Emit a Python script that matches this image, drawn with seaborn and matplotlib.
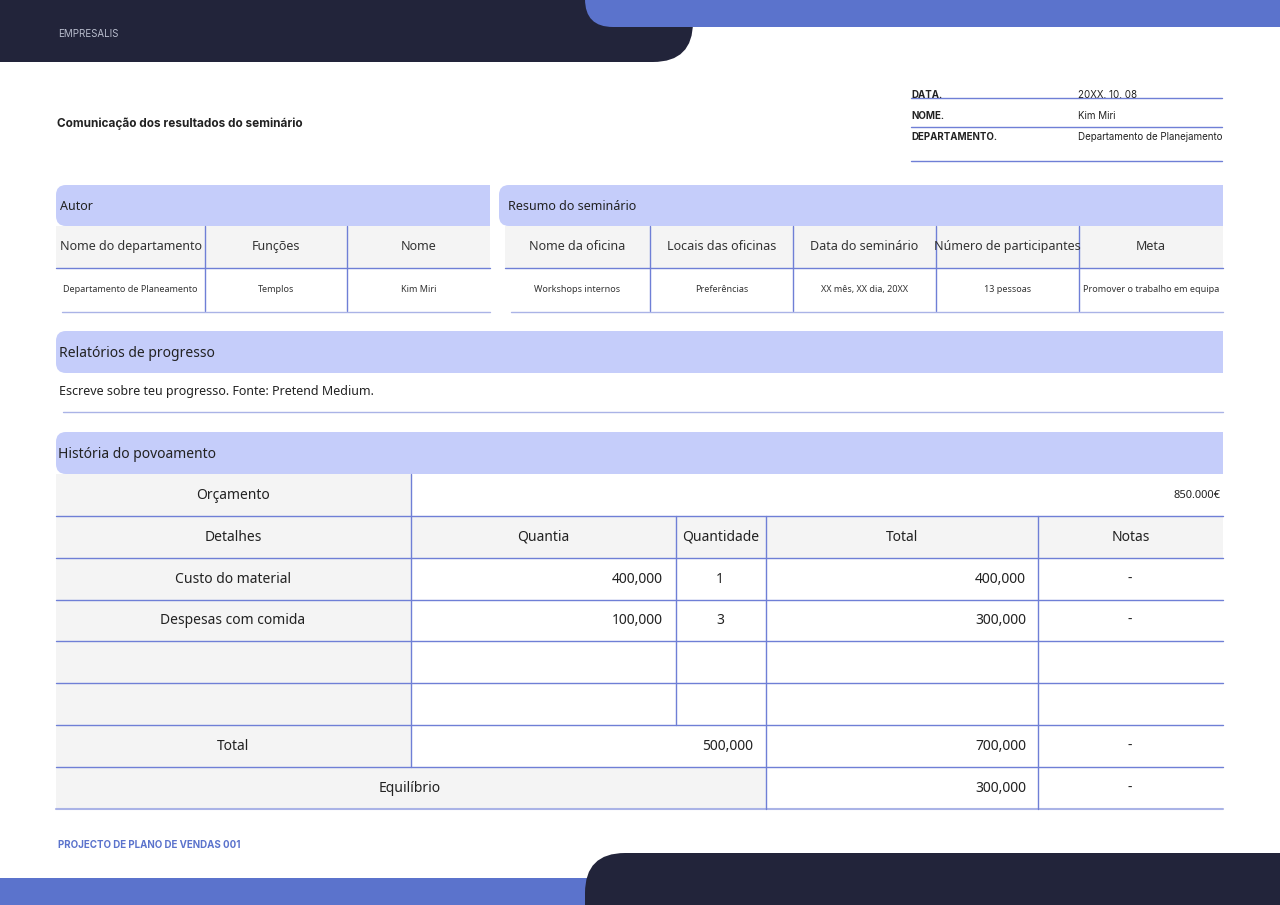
import matplotlib.pyplot as plt
import seaborn as sns
from matplotlib.patches import FancyBboxPatch, Rectangle

sns.set_theme(style="white")
plt.rcParams['font.family'] = ['Noto Sans', 'DejaVu Sans']

NAVY = "#22243a"
BLUE = "#5b73cc"
LIGHT = "#c5cdfa"
GRAY = "#f4f4f4"
LINE = "#6f7fd6"

info_labels = ["DATA.", "NOME.", "DEPARTAMENTO."]
info_values = ["20XX. 10. 08", "Kim Miri", "Departamento de Planejamento"]

autor_cols = ["Nome do departamento", "Funções", "Nome"]
autor_vals = ["Departamento de Planeamento", "Templos", "Kim Miri"]
resumo_cols = ["Nome da oficina", "Locais das oficinas", "Data do seminário",
               "Número de participantes", "Meta"]
resumo_vals = ["Workshops internos", "Preferências", "XX mês, XX dia, 20XX",
               "13 pessoas", "Promover o trabalho em equipa"]

budget = "850.000€"
det_cols = ["Detalhes", "Quantia", "Quantidade", "Total", "Notas"]
items = ["Custo do material", "Despesas com comida"]
amounts = ["400,000", "100,000"]
qty = ["1", "3"]
totals = ["400,000", "300,000"]
sum_amount, sum_total = "500,000", "700,000"
balance = "300,000"

fig = plt.figure(figsize=(12.8, 9.05), dpi=100)
ax = fig.add_axes([0, 0, 1, 1])
ax.set_xlim(0, 1280)
ax.set_ylim(905, 0)
ax.axis("off")

def rbox(x0, y0, x1, y1, color, r, z=1):
    ax.add_patch(FancyBboxPatch((x0 + r, y0 + r), x1 - x0 - 2 * r, y1 - y0 - 2 * r,
                                boxstyle=f"round,pad={r}", fc=color, ec="none", zorder=z))

def rect(x0, y0, x1, y1, color, z=1):
    ax.add_patch(Rectangle((x0, y0), x1 - x0, y1 - y0, fc=color, ec="none", zorder=z))

def hl(y, x0, x1, c=LINE, lw=1):
    ax.plot([x0, x1], [y, y], color=c, lw=lw, zorder=3)

def vl(x, y0, y1, c=LINE, lw=1):
    ax.plot([x, x], [y0, y1], color=c, lw=lw, zorder=3)

def t(x, y, s, size=9.5, ha="left", color="#222222", weight="normal", fam=None):
    kw = {"family": fam} if fam else {}
    ax.text(x, y, s, fontsize=size, ha=ha, va="center", color=color, weight=weight,
            zorder=4, **kw)

# top / bottom decorations
rbox(-60, -60, 693, 62, NAVY, 40, 1)
rbox(585, -60, 1340, 27, BLUE, 28, 2)
t(58, 34, "EMPRESALIS", 7, color="#b8bccc", fam="Inter")
rect(0, 878, 620, 905, BLUE, 1)
rbox(585, 853, 1340, 965, NAVY, 40, 2)
t(58, 845, "PROJECTO DE PLANO DE VENDAS 001", 7, color=BLUE, weight="bold", fam="Inter")

# title & info
t(57, 124, "Comunicação dos resultados do seminário", 8.5, weight="bold", fam="Inter")
for i, (lab, val) in enumerate(zip(info_labels, info_values)):
    y = 95 + 21 * i
    t(911, y, lab, 7, weight="bold", fam="Inter")
    t(1078, y, val, 7, fam="Inter")
hl(98, 911, 1222)
hl(127, 911, 1222)
hl(161, 911, 1222)

# section headers (rounded left, square right)
def header(x0, y0, x1, y1, label, tx, size):
    rbox(x0, y0, x1 - 20, y1, LIGHT, 10)
    rect(x1 - 30, y0, x1, y1, LIGHT)
    t(tx, (y0 + y1) / 2 + 1, label, size)

header(56, 185, 490, 226, "Autor", 60, 9)
header(499, 185, 1223, 226, "Resumo do seminário", 508, 9)

def small_table(xs, cols, vals):
    rect(xs[0], 226, xs[-1], 268, GRAY)
    for i, (c, v) in enumerate(zip(cols, vals)):
        cx = (xs[i] + xs[i + 1]) / 2
        t(cx, 246, c, 9, ha="center", color="#333333")
        t(cx, 289, v, 6.5, ha="center", color="#333333")
    for x in xs[1:-1]:
        vl(x, 226, 311)
    hl(268, xs[0], xs[-1])
    hl(312, xs[0] + 6, xs[-1], c="#aab3e6")

small_table([56, 205, 347, 490], autor_cols, autor_vals)
small_table([505, 650, 793, 936, 1079, 1223], resumo_cols, resumo_vals)

header(56, 331, 1223, 373, "Relatórios de progresso", 59, 10)
t(59, 391, "Escreve sobre teu progresso. Fonte: Pretend Medium.", 9)
hl(412, 63, 1223, c="#aab3e6")

header(56, 432, 1223, 474, "História do povoamento", 58, 10)

# budget table
xs = [56, 411, 676, 766, 1038, 1223]
ys = [474, 516, 558, 600, 641, 683, 725, 767, 809]
mid = lambda i: (ys[i] + ys[i + 1]) / 2
for i in range(8):
    rect(56, ys[i], 411, ys[i + 1], GRAY)
rect(411, ys[1], 1223, ys[2], GRAY)
rect(411, ys[7], 766, ys[8], GRAY)

t(233, mid(0), "Orçamento", 10, ha="center")
t(1220, mid(0), budget, 8, ha="right")
for i, c in enumerate(det_cols):
    t((xs[i] + xs[i + 1]) / 2, mid(1), c, 10, ha="center")
for k in range(len(items)):
    r = 2 + k
    t(233, mid(r), items[k], 10, ha="center")
    t(663, mid(r), amounts[k], 10, ha="right")
    t(720, mid(r), qty[k], 10, ha="center")
    t(1026, mid(r), totals[k], 10, ha="right")
    t(1130, mid(r), "-", 10, ha="center")
t(233, mid(6), "Total", 10, ha="center")
t(753, mid(6), sum_amount, 10, ha="right")
t(1026, mid(6), sum_total, 10, ha="right")
t(1130, mid(6), "-", 10, ha="center")
t(410, mid(7), "Equilíbrio", 10, ha="center")
t(1026, mid(7), balance, 10, ha="right")
t(1130, mid(7), "-", 10, ha="center")

for y in ys[1:-1]:
    hl(y, 56, 1223)
hl(ys[-1], 56, 1223, c="#aab3e6", lw=1.5)
vl(411, ys[0], ys[7])
vl(676, ys[1], ys[6])
vl(766, ys[1], ys[8])
vl(1038, ys[1], ys[8])

fig.savefig("out.png", dpi=100)
